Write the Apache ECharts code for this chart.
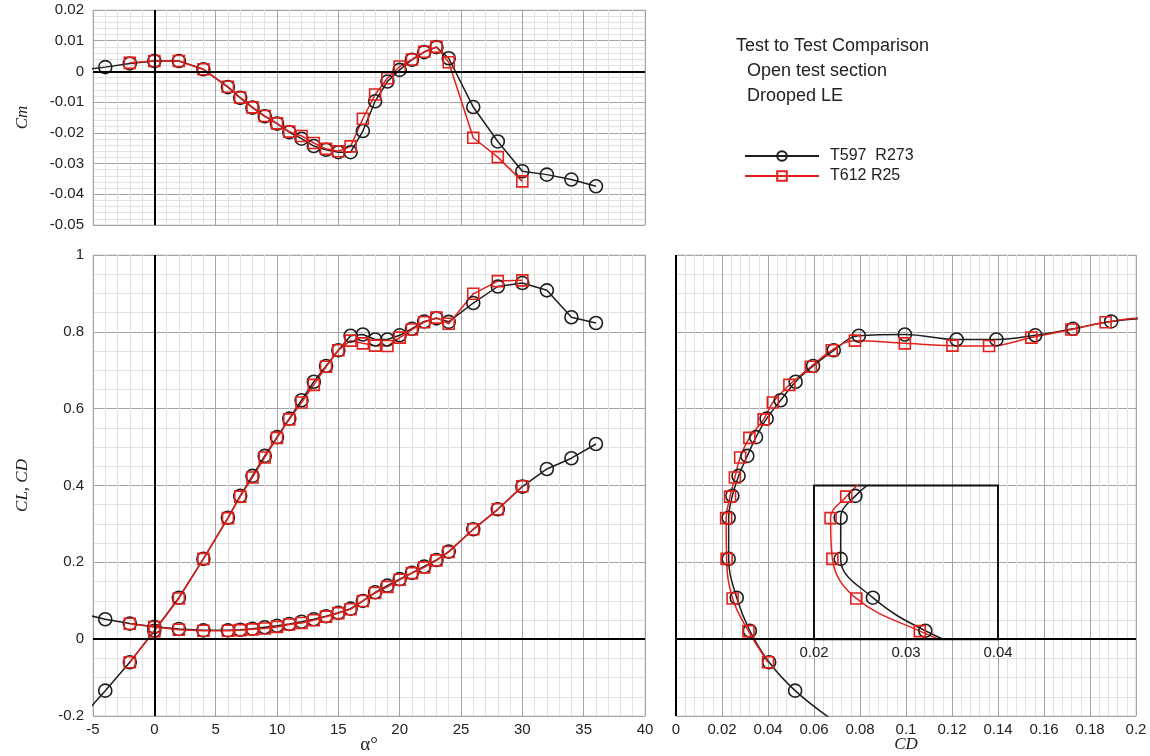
<!DOCTYPE html>
<html>
<head>
<meta charset="utf-8">
<title>Test to Test Comparison</title>
<script src="https://cdn.jsdelivr.net/npm/echarts@6/dist/echarts.min.js"></script>
<style>
html,body{margin:0;padding:0;background:#fff;}
#main{width:1150px;height:756px;}
</style>
</head>
<body>
<div id="main"></div>
<script type="text/javascript">
// T597 R273 (black, circles)
var alphaA = [-6, -4, -2, 0, 2, 4, 6, 7, 8, 9, 10, 11, 12, 13, 14, 15, 16, 17, 18, 19, 20, 21, 22, 23, 24, 26, 28, 30, 32, 34, 36];
var cmA = [0.0004, 0.0014, 0.0026, 0.0034, 0.0034, 0.0007, -0.0051, -0.0086, -0.0118, -0.0146, -0.0170, -0.0198, -0.0219, -0.0243, -0.0255, -0.0263, -0.0263, -0.0194, -0.0097, -0.0033, 0.0005, 0.0038, 0.0063, 0.0079, 0.0043, -0.0116, -0.0228, -0.0325, -0.0336, -0.0352, -0.0374];
var clA = [-0.206, -0.134, -0.060, 0.022, 0.108, 0.209, 0.316, 0.373, 0.425, 0.477, 0.526, 0.574, 0.622, 0.670, 0.711, 0.752, 0.790, 0.793, 0.780, 0.780, 0.791, 0.808, 0.827, 0.835, 0.826, 0.875, 0.918, 0.927, 0.908, 0.838, 0.823];
var cdA = [0.067, 0.0518, 0.0405, 0.0321, 0.0264, 0.0229, 0.0229, 0.0245, 0.0272, 0.0310, 0.0348, 0.0394, 0.0455, 0.0520, 0.0596, 0.0686, 0.0795, 0.0995, 0.1220, 0.1393, 0.1562, 0.1726, 0.1892, 0.206, 0.228, 0.286, 0.338, 0.397, 0.443, 0.471, 0.508];

// T612 R25 (red, squares)
var alphaB = [-2, 0, 2, 4, 6, 7, 8, 9, 10, 11, 12, 13, 14, 15, 16, 17, 18, 19, 20, 21, 22, 23, 24, 26, 28, 30];
var cmB = [0.0028, 0.0034, 0.0034, 0.0007, -0.0050, -0.0085, -0.0117, -0.0145, -0.0169, -0.0196, -0.0210, -0.0233, -0.0252, -0.0260, -0.0244, -0.0154, -0.0075, -0.0022, 0.0016, 0.0039, 0.0064, 0.0080, 0.0030, -0.0216, -0.0279, -0.0358];
var clB = [-0.060, 0.021, 0.106, 0.209, 0.315, 0.371, 0.421, 0.473, 0.524, 0.572, 0.616, 0.662, 0.709, 0.752, 0.777, 0.770, 0.764, 0.763, 0.785, 0.806, 0.825, 0.837, 0.821, 0.899, 0.932, 0.934];
var cdB = [0.0400, 0.0315, 0.0246, 0.0220, 0.0218, 0.0235, 0.0256, 0.0279, 0.0319, 0.0381, 0.0421, 0.0493, 0.0586, 0.0677, 0.0778, 0.0995, 0.1202, 0.1361, 0.1545, 0.1719, 0.1868, 0.205, 0.227, 0.286, 0.338, 0.398];

var nameA = 'T597  R273';
var nameB = 'T612 R25';
var noteLines = ['Test to Test Comparison', 'Open test section', 'Drooped LE'];

var BLACK = '#1e1e1e', RED = '#e2201c';
var SANS = '"Liberation Sans", Arial, sans-serif';
var SERIF = '"Liberation Serif", "Times New Roman", serif';

// panel layout (px)
var P1 = {left: 93, top: 10, width: 552, height: 215};
var P2 = {left: 93, top: 255, width: 552, height: 461};
var P3 = {left: 676, top: 255, width: 460, height: 461};
// inset box sits at CD 0.06..0.14, CL 0..0.4 of the polar panel
var P4 = {
  left: P3.left + 0.06 / 0.2 * P3.width,
  width: 0.08 / 0.2 * P3.width,
  top: P3.top + (1 - 0.4) / 1.2 * P3.height,
  height: 0.4 / 1.2 * P3.height
};

function pairs(xs, ys){
  var out = [];
  for (var i = 0; i < xs.length; i++) out.push([xs[i], ys[i]]);
  return out;
}

function grid(p, show){
  return {left: p.left, top: p.top, width: p.width, height: p.height,
    outerBoundsMode: 'none', containLabel: false,
    show: show, borderColor: '#cfcfcf', borderWidth: 1, backgroundColor: 'transparent'};
}

function valAxis(idx, min, max, step, minorN, labels, margin){
  return {
    type: 'value', gridIndex: idx, min: min, max: max, interval: step,
    axisLine: {show: false}, axisTick: {show: false},
    axisLabel: {show: labels, fontFamily: SANS, fontSize: 15, color: '#222', margin: margin || 9},
    splitLine: {show: true, lineStyle: {color: '#a4a4a4', width: 1}},
    minorTick: {show: false, splitNumber: minorN},
    minorSplitLine: {show: true, lineStyle: {color: '#e2e2e2', width: 1}}
  };
}

var zeroLines = {
  silent: true, symbol: 'none', label: {show: false},
  lineStyle: {color: '#000', width: 2, type: 'solid'},
  emphasis: {disabled: true},
  data: [{xAxis: 0}, {yAxis: 0}]
};

// frame of the magnified inset
var insetBox = {
  silent: true, label: {show: false},
  itemStyle: {color: 'rgba(0,0,0,0)', borderColor: '#111', borderWidth: 2},
  emphasis: {disabled: true},
  data: [[{xAxis: 0.02, yAxis: 0}, {xAxis: 0.04, yAxis: 0.4}]]
};

function series(name, color, symbol, size, ax, data, smooth){
  return {
    type: 'line', name: name, xAxisIndex: ax, yAxisIndex: ax, data: data,
    smooth: smooth ? 0.4 : false, symbol: symbol, symbolSize: size,
    showAllSymbol: true, clip: true,
    lineStyle: {color: color, width: 1.5},
    itemStyle: {color: 'rgba(255,255,255,0)', borderColor: color, borderWidth: 1.6},
    emphasis: {disabled: true}
  };
}

var xa0 = valAxis(0, -5, 40, 5, 5, false);
var ya0 = valAxis(0, -0.05, 0.02, 0.01, 5, true);
ya0.name = 'Cm'; ya0.nameLocation = 'middle'; ya0.nameGap = 62;
ya0.nameTextStyle = {fontFamily: SERIF, fontStyle: 'italic', fontSize: 17, color: '#222'};

var xa1 = valAxis(1, -5, 40, 5, 5, true, 6);
xa1.name = 'α°'; xa1.nameLocation = 'middle'; xa1.nameGap = 20; xa1.nameMoveOverlap = false;
xa1.nameTextStyle = {fontFamily: SERIF, fontSize: 19, color: '#222'};
var ya1 = valAxis(1, -0.2, 1, 0.2, 4, true);
ya1.name = 'CL, CD'; ya1.nameLocation = 'middle'; ya1.nameGap = 62;
ya1.nameTextStyle = {fontFamily: SERIF, fontStyle: 'italic', fontSize: 17, color: '#222'};

var xa2 = valAxis(2, 0, 0.2, 0.02, 5, true, 6);
xa2.name = 'CD'; xa2.nameLocation = 'middle'; xa2.nameGap = 20; xa2.nameMoveOverlap = false;
xa2.nameTextStyle = {fontFamily: SERIF, fontStyle: 'italic', fontSize: 17, color: '#222'};
var ya2 = valAxis(2, -0.2, 1, 0.2, 4, false);

var xa3 = {type: 'value', gridIndex: 3, min: 0.02, max: 0.04, interval: 0.01,
  axisLine: {show: false}, axisTick: {show: false}, splitLine: {show: false},
  axisLabel: {fontFamily: SANS, fontSize: 15, color: '#222', margin: 6}};
var ya3 = {type: 'value', gridIndex: 3, min: 0, max: 0.4, show: false, splitLine: {show: false}};

var sA = [
  series(nameA, BLACK, 'circle', 13, 0, pairs(alphaA, cmA)),
  series(nameA, BLACK, 'circle', 13, 1, pairs(alphaA, clA)),
  series(nameA, BLACK, 'circle', 13, 1, pairs(alphaA, cdA)),
  series(nameA, BLACK, 'circle', 13, 2, pairs(cdA, clA), true),
  series(nameA, BLACK, 'circle', 13, 3, pairs(cdA, clA), true)
];
sA[0].markLine = zeroLines;
sA[1].markLine = zeroLines;
sA[3].markLine = zeroLines;
sA[4].markArea = insetBox;

var sB = [
  series(nameB, RED, 'rect', 11, 0, pairs(alphaB, cmB)),
  series(nameB, RED, 'rect', 11, 1, pairs(alphaB, clB)),
  series(nameB, RED, 'rect', 11, 1, pairs(alphaB, cdB)),
  series(nameB, RED, 'rect', 11, 2, pairs(cdB, clB), true),
  series(nameB, RED, 'rect', 11, 3, pairs(cdB, clB), true)
];

var myChart = echarts.init(document.getElementById('main'));
var option = {
  animation: false,
  backgroundColor: '#fff',
  grid: [grid(P1, true), grid(P2, true), grid(P3, true), grid(P4, false)],
  xAxis: [xa0, xa1, xa2, xa3],
  yAxis: [ya0, ya1, ya2, ya3],
  legend: {
    data: [nameA, nameB], orient: 'vertical', left: 739, top: 143,
    itemWidth: 74, itemHeight: 12, itemGap: 4,
    textStyle: {fontFamily: SANS, fontSize: 16, color: '#222', padding: [0, 0, 0, 6]},
    selectedMode: false
  },
  graphic: [
    {type: 'text', left: 736, top: 37, style: {text: noteLines[0], font: '18px ' + SANS, fill: '#222'}},
    {type: 'text', left: 747, top: 62, style: {text: noteLines[1], font: '18px ' + SANS, fill: '#222'}},
    {type: 'text', left: 747, top: 87, style: {text: noteLines[2], font: '18px ' + SANS, fill: '#222'}}
  ],
  series: sA.concat(sB)
};
myChart.setOption(option);
</script>
</body>
</html>
